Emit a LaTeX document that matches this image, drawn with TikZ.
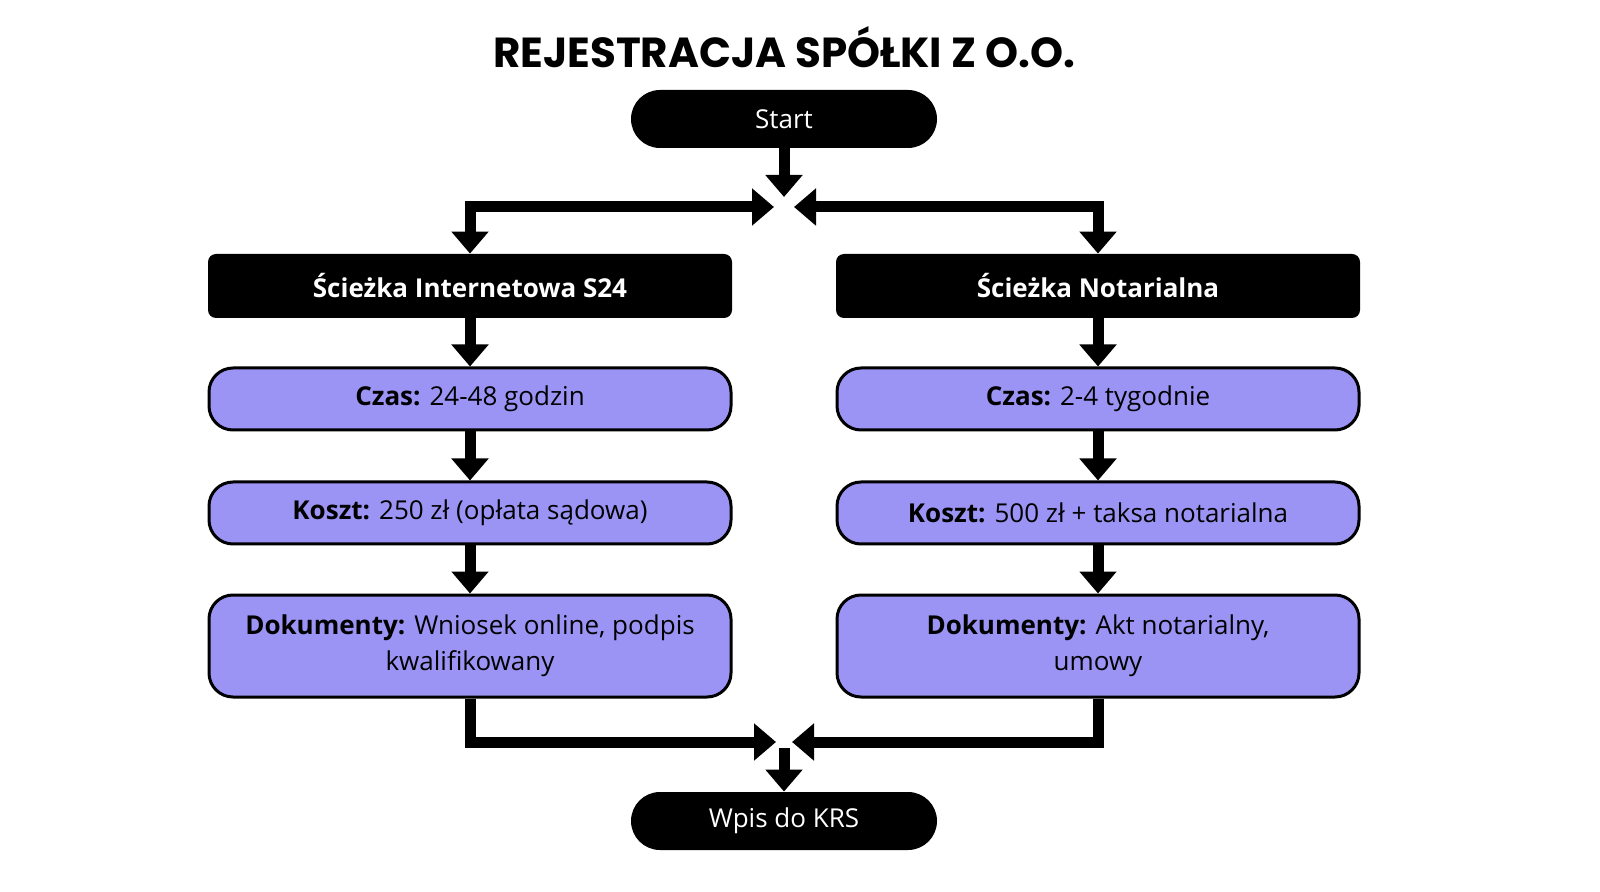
\documentclass[tikz,border=0pt]{standalone}
\usepackage{fontspec}
\setmainfont{Open Sans}
\newfontfamily\titlefont{Poppins}
\usetikzlibrary{arrows.meta,positioning}
\definecolor{stepfill}{RGB}{155,148,245}
\tikzset{
  term/.style={rectangle, rounded corners=14.5pt, fill=black, text=white, minimum width=153pt, minimum height=29pt, font=\fontsize{13}{15}\selectfont},
  pathbox/.style={rectangle, rounded corners=4pt, fill=black, text=white, minimum width=262pt, minimum height=32pt, font=\bfseries\fontsize{13}{15}\selectfont},
  stepbox/.style={rectangle, rounded corners=12pt, draw=black, line width=1.5pt, fill=stepfill, minimum width=261pt, minimum height=31pt, align=center, font=\fontsize{13}{18}\selectfont},
  flow/.style={line width=5.5pt, -{Triangle[width=18pt,length=11pt]}},
  both/.style={line width=5.5pt, {Triangle[width=18pt,length=11pt]}-{Triangle[width=18pt,length=11pt]}}
}
\begin{document}
\begin{tikzpicture}[x=0.5pt,y=-0.5pt]
  \useasboundingbox (0,0) rectangle (1600,892);
  \node[font=\titlefont\bfseries\fontsize{21}{24}\selectfont] (title) at (784,47) {REJESTRACJA SPÓŁKI Z O.O.};
  \node[term] (start) at (784,119) {Start};
  \node[term] (krs) at (784,821) {Wpis do KRS};
  % left path
  \node[pathbox] (s24) at (470,286) {Ścieżka Internetowa S24};
  \node[stepbox] (lczas) at (470,399) {\textbf{Czas:} 24-48 godzin};
  \node[stepbox] (lkoszt) at (470,513) {\textbf{Koszt:} 250 zł (opłata sądowa)};
  \node[stepbox, minimum height=51pt] (ldok) at (470,646) {\textbf{Dokumenty:} Wniosek online, podpis\\kwalifikowany};
  % right path
  \node[pathbox] (not) at (1098,286) {Ścieżka Notarialna};
  \node[stepbox] (rczas) at (1098,399) {\textbf{Czas:} 2-4 tygodnie};
  \node[stepbox] (rkoszt) at (1098,513) {\textbf{Koszt:} 500 zł + taksa notarialna};
  \node[stepbox, minimum height=51pt] (rdok) at (1098,646) {\textbf{Dokumenty:} Akt notarialny,\\umowy};
  \coordinate (split) at (784,207);
  \coordinate (merge) at (784,742);
  \draw[flow, shorten >=5pt] (start) -- (split);
  \draw[both, shorten <=5pt] (split) -| (s24);
  \draw[both, shorten <=5pt] (split) -| (not);
  \draw[flow] (s24) -- (lczas);
  \draw[flow] (lczas) -- (lkoszt);
  \draw[flow] (lkoszt) -- (ldok);
  \draw[flow] (not) -- (rczas);
  \draw[flow] (rczas) -- (rkoszt);
  \draw[flow] (rkoszt) -- (rdok);
  \draw[flow, shorten >=4pt] (ldok) |- (merge);
  \draw[flow, shorten >=4pt] (rdok) |- (merge);
  \draw[flow, shorten <=3pt] (merge) -- (krs);
\end{tikzpicture}
\end{document}
